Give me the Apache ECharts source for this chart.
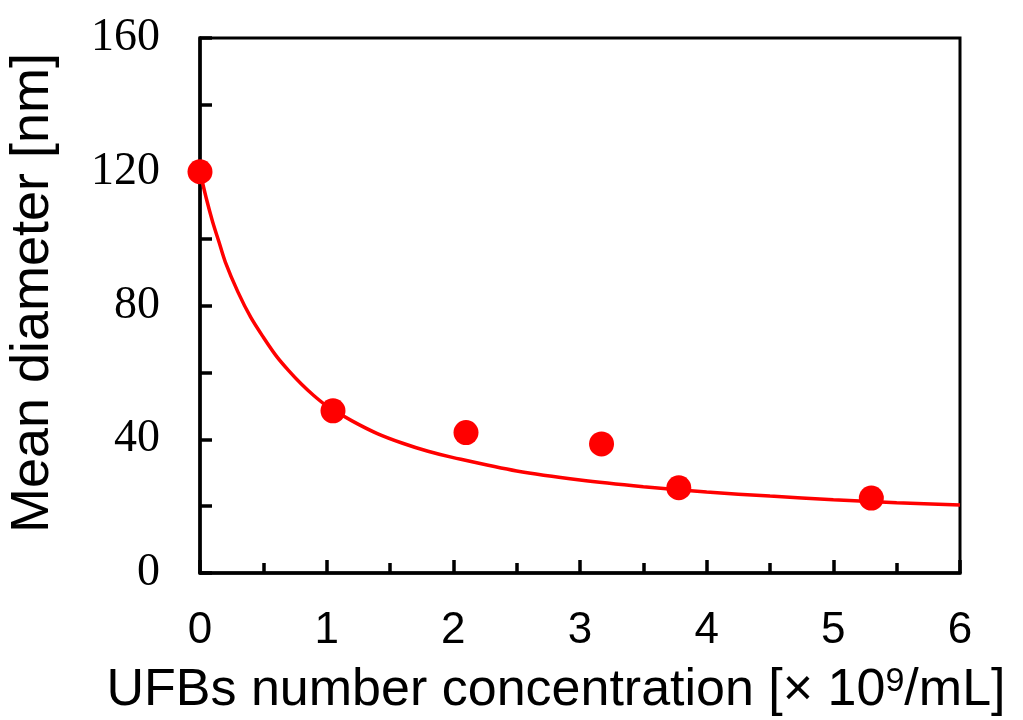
<!DOCTYPE html>
<html>
<head>
<meta charset="utf-8">
<script src="https://cdn.jsdelivr.net/npm/echarts@6/dist/echarts.min.js"></script>
<style>
html,body{margin:0;padding:0;background:#fff;}
#chart1{width:1023px;height:720px;}
</style>
</head>
<body>
<div id="chart1"></div>
<script>
// measured points
var conc=[0,1.05,2.1,3.17,3.78,5.3];
var diameter=[120,48.5,42,38.6,25.5,22.4];
// fitted curve
var fitX=[0,0.05,0.1,0.15,0.2,0.3,0.4,0.5,0.6,0.7,0.8,0.9,1.0,1.2,1.4,1.6,1.8,2.0,2.5,3.0,3.5,4.0,4.5,5.0,5.5,6.0];
var fitY=[120,112,105,99,93,84,76.5,70.5,65,60.5,56.5,53,50,45.5,41.7,38.8,36.4,34.5,30.5,27.8,25.8,24.2,23,21.9,21,20.3];
var xTicks=[0,1,2,3,4,5,6];
var yTicks=[0,40,80,120,160];

function pairs(xs,ys){
	var out=[];
	for(var i=0;i<xs.length;i++){out.push([xs[i],ys[i]]);}
	return out;
}

function chart1(){
	var myChart=echarts.init(document.getElementById('chart1'));
	var option={
		animation:false,
		grid:{
			left:200,
			right:63,
			top:38,
			bottom:147,
			outerBoundsMode:'none',
			show:true,
			borderColor:'#000',
			borderWidth:3
		},
		xAxis:{
			type:'value',
			min:xTicks[0],
			max:xTicks[xTicks.length-1],
			interval:1,
			name:'UFBs number concentration [× 10{s|9}/mL]',
			nameLocation:'middle',
			nameGap:92,
			nameTextStyle:{
				fontFamily:'Liberation Sans',
				fontSize:52,
				color:'#000',
				padding:[0,48,0,0],
				rich:{
					s:{fontSize:34,verticalAlign:'top',lineHeight:52,padding:[0,0,16,0],fontFamily:'Liberation Sans',color:'#000'}
				}
			},
			axisLine:{lineStyle:{color:'#000',width:3.5}},
			axisTick:{inside:true,length:13,lineStyle:{color:'#000',width:3.5}},
			minorTick:{show:true,splitNumber:2,length:10,lineStyle:{color:'#000',width:3.5}},
			axisLabel:{
				margin:36,
				fontFamily:'Liberation Sans',
				fontSize:44,
				color:'#000'
			},
			splitLine:{show:false}
		},
		yAxis:{
			type:'value',
			min:yTicks[0],
			max:yTicks[yTicks.length-1],
			interval:40,
			name:'Mean diameter [nm]',
			nameLocation:'middle',
			nameGap:140,
			nameTextStyle:{
				fontFamily:'Liberation Sans',
				fontSize:54,
				color:'#000',
				padding:[0,0,0,25]
			},
			axisLine:{lineStyle:{color:'#000',width:3.5}},
			axisTick:{inside:true,length:12,lineStyle:{color:'#000',width:3.5}},
			minorTick:{show:true,splitNumber:2,length:12,lineStyle:{color:'#000',width:3.5}},
			axisLabel:{
				margin:40,
				fontFamily:'Liberation Serif',
				fontSize:46,
				color:'#000'
			},
			splitLine:{show:false}
		},
		series:[
			{
				name:'fit',
				type:'line',
				smooth:0.3,
				showSymbol:false,
				lineStyle:{color:'#ff0000',width:3.5},
				data:pairs(fitX,fitY),
				z:2
			},
			{
				name:'data',
				type:'scatter',
				symbolSize:25,
				itemStyle:{color:'#ff0000',opacity:1},
				data:pairs(conc,diameter),
				z:3
			}
		]
	};
	myChart.setOption(option);
}
chart1();
</script>
</body>
</html>
